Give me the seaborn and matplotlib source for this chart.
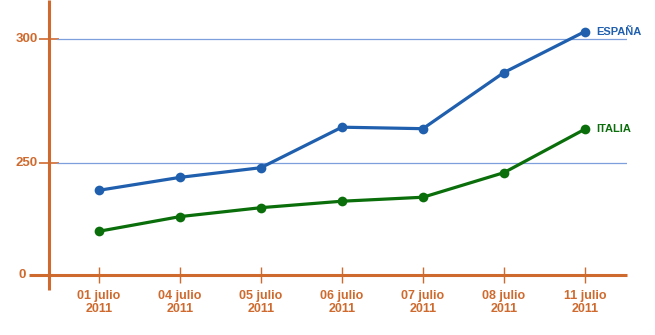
import matplotlib
matplotlib.use("Agg")
import matplotlib.pyplot as plt
import matplotlib.transforms as mtransforms
import seaborn as sns
import pandas as pd

dates = ["01 julio\n2011", "04 julio\n2011", "05 julio\n2011", "06 julio\n2011",
         "07 julio\n2011", "08 julio\n2011", "11 julio\n2011"]
espana = [239.2, 244.4, 248.3, 264.6, 264.0, 286.6, 303.1]
italia = [222.7, 228.6, 232.2, 234.8, 236.4, 246.3, 263.8]
ytick_values = [205.3, 250, 300]
ytick_labels = ["0", "250", "300"]

ORANGE = "#cf6a2e"
BLUE = "#1f5fae"
GREEN = "#0a6e0a"
GRID = "#7d9fdc"

sns.set_theme(style="white")
plt.rcParams["font.family"] = ["Liberation Sans", "DejaVu Sans"]

df = pd.DataFrame({
    "fecha": dates * 2,
    "valor": espana + italia,
    "pais": ["ESPAÑA"] * len(dates) + ["ITALIA"] * len(dates),
})

fig = plt.figure(figsize=(6.55, 3.35), dpi=100)
ax = fig.add_axes([49 / 655, (335 - 274.5) / 335, (627 - 49) / 655, 274.5 / 335])

sns.lineplot(data=df, x="fecha", y="valor", hue="pais",
             palette={"ESPAÑA": BLUE, "ITALIA": GREEN},
             marker="o", markersize=7, markeredgewidth=0, linewidth=2.3,
             legend=False, ax=ax, zorder=3)

ax.set_xlim(-0.617, 6.52)
ax.set_ylim(205.3, 315.8)

for s in ax.spines.values():
    s.set_visible(False)

for v in ytick_values[1:]:
    ax.axhline(v, xmin=8 / 578, xmax=1, color=GRID, lw=0.9, zorder=1)

ax.plot([-20 / 578, 1], [0, 0], transform=ax.transAxes, color=ORANGE, lw=2.2,
        clip_on=False, zorder=2, solid_capstyle="butt")
ax.plot([0, 0], [-15 / 274.5, 1], transform=ax.transAxes, color=ORANGE, lw=2.2,
        clip_on=False, zorder=2, solid_capstyle="butt")

ax.set_yticks(ytick_values)
ax.set_yticklabels(ytick_labels)
ax.set_xticks(range(len(dates)))
ax.set_xticklabels(dates)
ax.tick_params(axis="y", direction="inout", length=14, width=1.2, color=ORANGE,
               labelcolor=ORANGE, labelsize=9.5, pad=1, left=True)
ax.tick_params(axis="x", direction="inout", length=12, width=1, color=ORANGE,
               labelcolor=ORANGE, labelsize=9, pad=5, bottom=True)
for lab in ax.get_xticklabels() + ax.get_yticklabels():
    lab.set_fontweight("bold")
for lab in ax.get_xticklabels():
    lab.set_linespacing(1.15)
ylabs = ax.get_yticklabels()
for lab in ylabs:
    lab.set_verticalalignment("center")
ylabs[0].set_transform(ylabs[0].get_transform() +
                       mtransforms.ScaledTranslation(-0.12, 0, fig.dpi_scale_trans))
ax.yaxis.get_major_ticks()[0].tick1line.set_visible(False)
ax.set_xlabel("")
ax.set_ylabel("")

ax.annotate("ESPAÑA", xy=(len(dates) - 1, espana[-1]), xytext=(8.5, 0),
            textcoords="offset points", color=BLUE, fontsize=8, fontweight="bold",
            va="center", ha="left", annotation_clip=False)
ax.annotate("ITALIA", xy=(len(dates) - 1, italia[-1]), xytext=(8, 0),
            textcoords="offset points", color=GREEN, fontsize=8, fontweight="bold",
            va="center", ha="left", annotation_clip=False)

fig.savefig("out.png", dpi=100)
